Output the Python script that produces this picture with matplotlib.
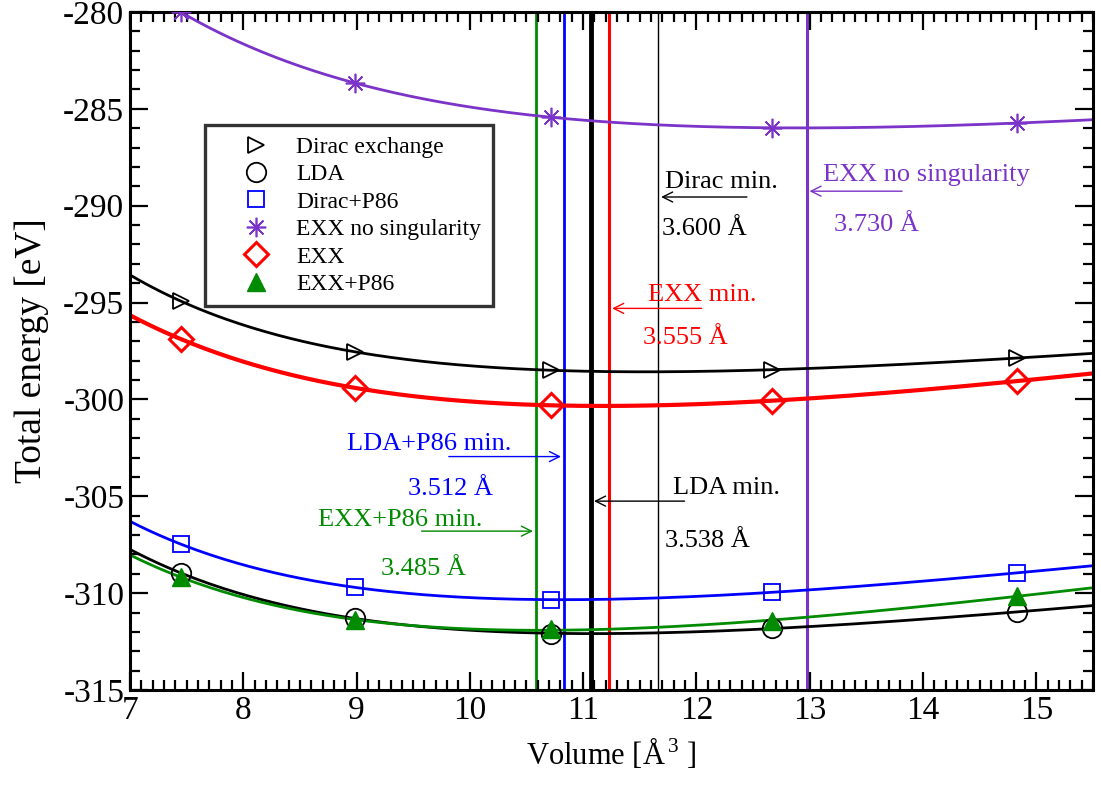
import numpy as np
import matplotlib
matplotlib.use("Agg")
import matplotlib.pyplot as plt
from matplotlib.ticker import MultipleLocator

plt.rcParams['font.family'] = ['Liberation Serif', 'DejaVu Serif']
plt.rcParams['axes.unicode_minus'] = False
plt.rcParams['mathtext.fontset'] = 'custom'
plt.rcParams['mathtext.rm'] = 'Liberation Serif'

# volumes (A^3) of the computed points
volume = [7.448, 8.984, 10.719, 12.663, 14.830]

# total energies [eV]
e_dirac = [-294.92, -297.55, -298.48, -298.48, -297.86]
e_lda = [-308.96, -311.29, -312.11, -311.80, -310.98]
e_dirac_p86 = [-307.47, -309.69, -310.36, -309.94, -308.96]
e_exx_nosing = [-280.0, -283.67, -285.42, -285.99, -285.73]
e_exx = [-296.88, -299.41, -300.29, -300.08, -299.05]
e_exx_p86 = [-309.17, -311.39, -311.86, -311.44, -310.15]

# minima: lattice constant (A) -> volume a^3/4
a_min = {'dirac': 3.600, 'exx_nosing': 3.730, 'exx': 3.555,
         'lda': 3.538, 'lda_p86': 3.512, 'exx_p86': 3.485}

purple = '#7b33c8'
green = '#008b00'

fig = plt.figure(figsize=(11.01, 7.90), dpi=100)
ax = fig.add_axes([0.118, 0.1266, 0.8747, 0.8582])

V = np.array(volume)
vv = np.linspace(7.0, 15.5, 300)


def fit(e):
    # Birch-Murnaghan type fit, cubic in V^(-2/3)
    p = np.polyfit(V ** (-2.0 / 3.0), np.array(e), 3)
    return np.polyval(p, vv ** (-2.0 / 3.0))


# vertical lines at minima
vmin = {k: a ** 3 / 4.0 for k, a in a_min.items()}
ax.axvline(vmin['exx_p86'], color=green, lw=2.0, zorder=1)
ax.axvline(vmin['lda_p86'], color='blue', lw=2.0, zorder=1)
ax.axvline(vmin['lda'], color='black', lw=3.5, zorder=1)
ax.axvline(vmin['exx'], color='red', lw=2.2, zorder=1)
ax.axvline(vmin['dirac'], color='black', lw=1.0, zorder=1)
ax.axvline(vmin['exx_nosing'], color=purple, lw=2.2, zorder=1)

# fitted curves
ax.plot(vv, fit(e_dirac), color='black', lw=2.0)
ax.plot(vv, fit(e_lda), color='black', lw=2.0)
ax.plot(vv, fit(e_dirac_p86), color='blue', lw=2.0)
ax.plot(vv, fit(e_exx_nosing), color=purple, lw=2.0)
ax.plot(vv, fit(e_exx), color='red', lw=3.0)
ax.plot(vv, fit(e_exx_p86), color=green, lw=2.0)

# points
ax.plot(volume, e_dirac, ls='none', marker='>', ms=12, mfc='none', mec='black', mew=1.3,
        label='Dirac exchange', zorder=5)
ax.plot(volume, e_lda, ls='none', marker='o', ms=14, mfc='none', mec='black', mew=1.3,
        label='LDA', zorder=5)
ax.plot(volume, e_dirac_p86, ls='none', marker='s', ms=12, mfc='none', mec='blue', mew=1.3,
        label='Dirac+P86', zorder=5)
ax.plot(volume, e_exx_nosing, ls='none', marker=(8, 2, 0), ms=14, mec=purple, mew=1.2,
        label='EXX no singularity', zorder=5)
ax.plot(volume, e_exx, ls='none', marker='D', ms=12, mfc='none', mec='red', mew=2.2,
        label='EXX', zorder=5)
ax.plot(volume, e_exx_p86, ls='none', marker='^', ms=13, color=green,
        label='EXX+P86', zorder=6)

# annotations for the minima
ann = 19
arw = dict(arrowstyle='->', lw=1.0, mutation_scale=18)


def mark(x_from, x_to, y, col, t1, t1xy, t2, t2xy):
    ax.annotate('', xy=(x_to, y), xytext=(x_from, y),
                arrowprops=dict(arw, color=col), zorder=7)
    ax.text(t1xy[0], t1xy[1], t1, color=col, fontsize=ann, va='center', ha='left', zorder=7)
    ax.text(t2xy[0], t2xy[1], t2, color=col, fontsize=ann, va='center', ha='left', zorder=7)


mark(12.47, vmin['dirac'], -289.55, 'black', 'Dirac min.', (11.72, -288.8),
     '3.600 Å', (11.70, -291.2))
mark(13.84, vmin['exx_nosing'], -289.25, purple, 'EXX no singularity', (13.12, -288.4),
     '3.730 Å', (13.21, -291.0))
mark(12.07, vmin['exx'], -295.3, 'red', 'EXX min.', (11.57, -294.6),
     '3.555 Å', (11.53, -296.85))
mark(9.79, vmin['lda_p86'], -302.95, 'blue', 'LDA+P86 min.', (8.92, -302.3),
     '3.512 Å', (9.45, -304.6))
mark(11.92, vmin['lda'], -305.25, 'black', 'LDA min.', (11.79, -304.55),
     '3.538 Å', (11.72, -307.3))
mark(9.55, vmin['exx_p86'], -306.8, green, 'EXX+P86 min.', (8.66, -306.25),
     '3.485 Å', (9.22, -308.75))

ax.set_xlim(7, 15.5)
ax.set_ylim(-315, -280)
ax.xaxis.set_major_locator(MultipleLocator(1))
ax.xaxis.set_minor_locator(MultipleLocator(0.1))
ax.yaxis.set_major_locator(MultipleLocator(5))
ax.yaxis.set_minor_locator(MultipleLocator(1))
ax.tick_params(which='both', direction='in', top=True, right=True, width=1.6)
ax.tick_params(which='major', length=13, labelsize=24, pad=4)
ax.tick_params(which='minor', length=7)
for s in ax.spines.values():
    s.set_linewidth(2.2)

ax.set_xlabel(r'Volume [Å$^{\,3}$ ]', fontsize=22, labelpad=7)
ax.set_ylabel('Total energy [eV]', fontsize=27, labelpad=10)

leg = ax.legend(loc='upper left', bbox_to_anchor=(0.078, 0.833), borderaxespad=0,
                fontsize=17, frameon=True, fancybox=False, handlelength=3.4,
                handletextpad=0.0, labelspacing=0.25, borderpad=0.47, markerscale=1.0)
leg.get_frame().set_edgecolor('black')
leg.get_frame().set_linewidth(2.4)

fig.savefig('out.png', dpi=100)
